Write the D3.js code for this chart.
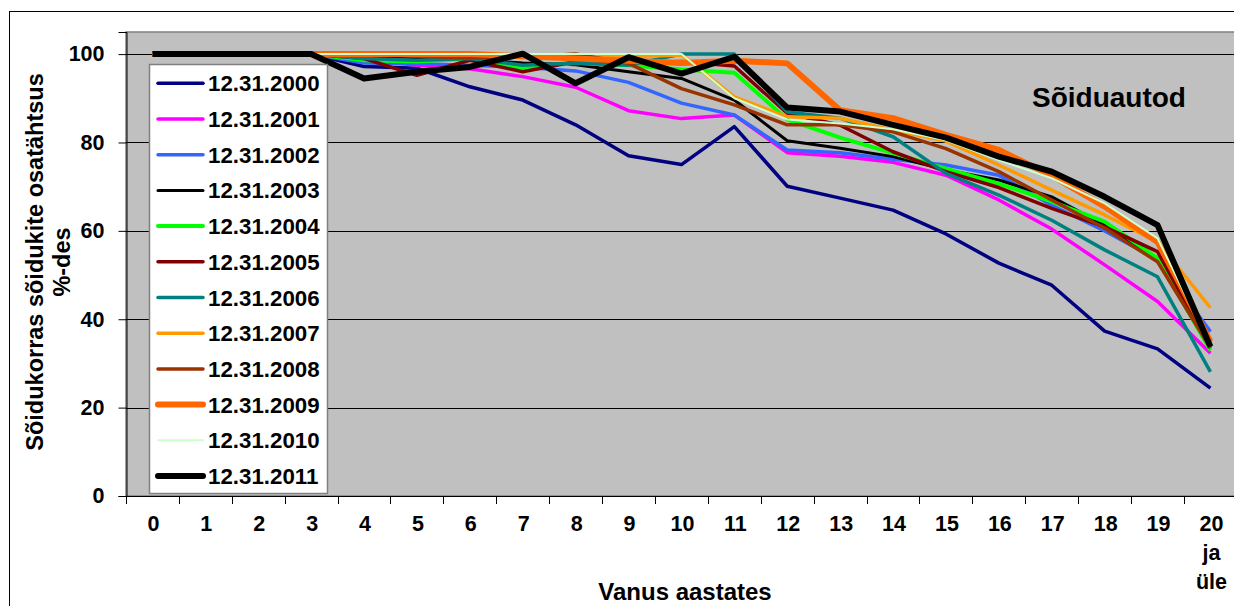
<!DOCTYPE html>
<html>
<head>
<meta charset="utf-8">
<script src="https://cdn.jsdelivr.net/npm/d3@7"></script>
<style>
html,body{margin:0;padding:0;background:#fff;}
svg{display:block;font-family:"Liberation Sans",Arial,sans-serif;font-weight:bold;}
</style>
</head>
<body>
<svg id="chart" width="1234" height="606"></svg>
<script>
const categories = ["0","1","2","3","4","5","6","7","8","9","10","11","12","13","14","15","16","17","18","19","20 ja üle"];
const seriesNames = ["12.31.2000","12.31.2001","12.31.2002","12.31.2003","12.31.2004","12.31.2005","12.31.2006","12.31.2007","12.31.2008","12.31.2009","12.31.2010","12.31.2011"];
const s2000 = [100,100,100,100,97.2,96.8,92.6,89.6,84,77,75,83.6,70.1,67.4,64.7,59.3,52.7,47.7,37.3,33.3,24.4];
const s2001 = [100,100,100,100,98.8,97.5,96.7,94.9,92.5,87.2,85.4,86.2,77.7,76.9,75.5,72.6,67,60.4,52.3,44,32.3];
const s2002 = [100,100,100,100,98,97.8,97.5,97,96.2,93.6,88.9,86.2,78.3,77.7,76.2,74.9,72.6,65.8,60,53.5,37.2];
const s2003 = [100,100,100,100,99.3,99,98.7,98,97.6,96,94.5,89.6,80.4,78.7,76.8,73.8,71.5,67.7,61.3,53.8,35];
const s2004 = [100,100,100,100,98.6,98.3,99,96.9,98,97.5,96.5,95.8,85.2,81.1,77.6,74.1,70.7,66.6,62.1,53.8,33];
const s2005 = [100,100,100,100,99,95.2,98.6,96,98.3,98,98.3,97.3,86.6,83.9,77.9,73.4,69.8,65.1,60.9,55.3,33.5];
const s2006 = [100,100,100,100,99,98.6,99,97.5,98,97.5,100,100,86.9,85.5,81.3,73,68.1,62.4,55.7,49.6,28.1];
const s2007 = [100,100,100,100,100,99.6,99.5,99.3,99.5,99.4,99.8,90.3,85.8,85.5,82.8,80.3,74.9,69.2,63.6,57.5,42.6];
const s2008 = [100,100,100,100,100,99.5,99.2,99.3,100,97.9,92.2,88.5,84,84,82.4,78.6,73.4,67,60.6,53,33.5];
const s2009 = [100,100,100,100,100,100,100,99.5,99,98.5,98,98.5,97.9,87.3,85.5,81.7,78.3,72.5,65.5,57.5,34.9];
const s2010 = [100,100,100,100,100,100,100,100,100,100,100,90,85.2,84.3,83,80.5,76,71.9,66.2,58.3,34];
const s2011 = [100,100,100,100,94.5,96,97.1,100.1,93.4,99.3,95.6,99.4,87.9,87,84,81.1,76.8,73.4,67.7,61.3,33.8];
const yTicks = [0,20,40,60,80,100];
const chartTitle = "Sõiduautod";
const yTitle1 = "Sõidukorras sõidukite osatähtsus";
const yTitle2 = "%-des";
const xTitle = "Vanus aastates";

const allSeries = [s2000,s2001,s2002,s2003,s2004,s2005,s2006,s2007,s2008,s2009,s2010,s2011];
const colors = ["#000080","#FF00FF","#3366FF","#000000","#00FF00","#800000","#008080","#FF9900","#993300","#FF6600","#CCFFCC","#000000"];
const widths = [3.5,3.5,3.5,3,4,3.5,3.5,3.5,3.5,6,2,6];

const svg = d3.select("#chart");
const plot = {left:126, top:32, bottom:496, band:52.9};
plot.right = plot.left + plot.band*categories.length;

// outer border
svg.append("rect").attr("x",9.5).attr("y",11.5).attr("width",1240).attr("height",620)
  .attr("fill","#fff").attr("stroke","#000").attr("stroke-width",1);

const x = d3.scaleBand().domain(categories).range([plot.left, plot.right]).paddingInner(0).paddingOuter(0);
const y = d3.scaleLinear().domain([0,105]).range([plot.bottom, plot.top]);

// plot background
svg.append("rect").attr("x",plot.left).attr("y",plot.top)
  .attr("width",plot.right-plot.left).attr("height",plot.bottom-plot.top)
  .attr("fill","#C0C0C0").attr("stroke","#808080").attr("stroke-width",1.5);

// gridlines
svg.append("g").selectAll("line").data(yTicks.filter(d=>d>0)).join("line")
  .attr("x1",plot.left).attr("x2",plot.right)
  .attr("y1",d=>Math.round(y(d))+0.5).attr("y2",d=>Math.round(y(d))+0.5)
  .attr("stroke","#000").attr("stroke-width",1);

// y axis
const yAxis = d3.axisLeft(y).tickValues(yTicks).tickSize(8).tickPadding(14);
const gy = svg.append("g").attr("transform",`translate(${plot.left+0.5},0)`).call(yAxis);
gy.select(".domain").attr("stroke","#000");
gy.selectAll(".tick line").attr("stroke","#000");
gy.selectAll(".tick text").attr("font-size",21.5).attr("font-weight","bold").attr("fill","#000")
  .attr("font-family","'Liberation Sans',Arial,sans-serif");

// x axis line and ticks at band boundaries
svg.append("line").attr("x1",plot.left).attr("x2",plot.right)
  .attr("y1",plot.bottom+0.5).attr("y2",plot.bottom+0.5).attr("stroke","#000");
const bounds = categories.map(c=>x(c)).concat([plot.right]);
svg.append("g").selectAll("line").data(bounds).join("line")
  .attr("x1",d=>Math.round(d)+0.5).attr("x2",d=>Math.round(d)+0.5)
  .attr("y1",plot.bottom).attr("y2",plot.bottom+8).attr("stroke","#000");

// x labels
const xl = svg.append("g").attr("font-size",21.5).attr("text-anchor","middle").attr("fill","#000");
categories.forEach(c=>{
  const parts = c.split(" ");
  const t = xl.append("text").attr("x",x(c)+x.bandwidth()/2+1).attr("y",531);
  parts.forEach((p,i)=>{
    t.append("tspan").attr("x",x(c)+x.bandwidth()/2+1).attr("dy",i===0?0:29).text(p);
  });
});

// lines
const line = d3.line().x((d,i)=>x(categories[i])+x.bandwidth()/2).y(d=>y(d)).curve(d3.curveLinear);
const lg = svg.append("g");
allSeries.forEach((s,k)=>{
  lg.append("path").datum(s).attr("d",line).attr("fill","none")
    .attr("stroke",colors[k]).attr("stroke-width",widths[k])
    .attr("stroke-linejoin","round").attr("stroke-linecap","butt");
});

// legend
const leg = svg.append("g");
leg.append("rect").attr("x",149.5).attr("y",64.5).attr("width",178).attr("height",429)
  .attr("fill","#fff").attr("stroke","#808080").attr("stroke-width",1.5);
seriesNames.forEach((n,i)=>{
  const cy = 83.3 + i*35.7;
  leg.append("line").attr("x1",158).attr("x2",203).attr("y1",cy).attr("y2",cy)
    .attr("stroke",colors[i]).attr("stroke-width",widths[i]).attr("stroke-linecap","round");
  leg.append("text").attr("x",208).attr("y",cy+8).attr("font-size",22.3).attr("fill","#000").text(n);
});

// titles
svg.append("text").attr("x",1109).attr("y",107).attr("text-anchor","middle").attr("font-size",28).text(chartTitle);
svg.append("text").attr("transform","translate(43,262) rotate(-90)").attr("text-anchor","middle").attr("font-size",23.5).text(yTitle1);
svg.append("text").attr("transform","translate(70,262) rotate(-90)").attr("text-anchor","middle").attr("font-size",23.5).text(yTitle2);
svg.append("text").attr("x",685).attr("y",600).attr("text-anchor","middle").attr("font-size",24).text(xTitle);
</script>
</body>
</html>
